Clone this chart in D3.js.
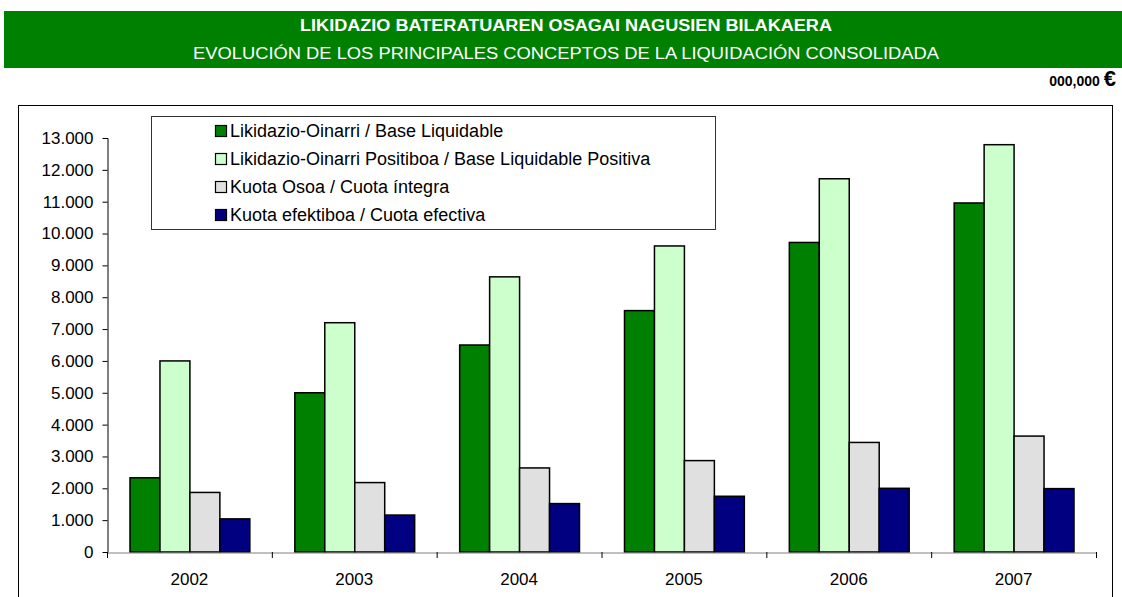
<!DOCTYPE html>
<html>
<head>
<meta charset="utf-8">
<script src="https://cdn.jsdelivr.net/npm/d3@7"></script>
<style>
  body { margin: 0; background: #fff; }
  svg { display: block; font-family: "Liberation Sans", Arial, sans-serif; }
</style>
</head>
<body>
<svg></svg>
<script>
var svgWidth = 1122;
var svgHeight = 597;

// data (thousands of euros)
var years = ["2002", "2003", "2004", "2005", "2006", "2007"];
var seriesNames = [
  "Likidazio-Oinarri / Base Liquidable",
  "Likidazio-Oinarri Positiboa / Base Liquidable Positiva",
  "Kuota Osoa / Cuota íntegra",
  "Kuota efektiboa / Cuota efectiva"
];
var baseLiquidable = [2330, 5000, 6500, 7580, 9720, 10960];
var basePositiva = [6000, 7200, 8640, 9610, 11720, 12790];
var cuotaIntegra = [1870, 2180, 2640, 2870, 3440, 3640];
var cuotaEfectiva = [1040, 1160, 1520, 1750, 2000, 1990];
var yTicks = [0, 1000, 2000, 3000, 4000, 5000, 6000, 7000, 8000, 9000, 10000, 11000, 12000, 13000];
var colors = ["#008000", "#CCFFCC", "#E0E0E0", "#000080"];

var allSeries = [baseLiquidable, basePositiva, cuotaIntegra, cuotaEfectiva];

var svg = d3.select("svg")
  .attr("width", svgWidth)
  .attr("height", svgHeight);

// header band
svg.append("rect")
  .attr("x", 4).attr("y", 11)
  .attr("width", 1118).attr("height", 57)
  .attr("fill", "#008000");
svg.append("text")
  .attr("x", 566).attr("y", 31)
  .attr("text-anchor", "middle")
  .attr("fill", "#fff")
  .attr("font-weight", "bold")
  .attr("font-size", 16)
  .attr("textLength", 532)
  .attr("lengthAdjust", "spacingAndGlyphs")
  .text("LIKIDAZIO BATERATUAREN OSAGAI NAGUSIEN BILAKAERA");
svg.append("text")
  .attr("x", 566).attr("y", 59)
  .attr("text-anchor", "middle")
  .attr("fill", "#fff")
  .attr("font-size", 16)
  .attr("textLength", 746)
  .attr("lengthAdjust", "spacingAndGlyphs")
  .text("EVOLUCIÓN DE LOS PRINCIPALES CONCEPTOS DE LA LIQUIDACIÓN CONSOLIDADA");

// units
var unit = svg.append("text")
  .attr("x", 1116).attr("y", 86)
  .attr("text-anchor", "end")
  .attr("font-weight", "bold")
  .attr("fill", "#000");
unit.append("tspan").attr("font-size", 14).text("000,000 ");
unit.append("tspan").attr("font-size", 22).text("€");

// chart frame
svg.append("rect")
  .attr("x", 18.5).attr("y", 105.5)
  .attr("width", 1094).attr("height", 520)
  .attr("fill", "none")
  .attr("stroke", "#000")
  .attr("stroke-width", 1);

var locale = d3.formatLocale({decimal: ",", thousands: ".", grouping: [3], currency: ["", "€"]});
var fmt = locale.format(",");

var x0 = d3.scaleBand().domain(years).range([107, 1096]).padding(0);
var x1 = d3.scaleBand().domain(d3.range(seriesNames.length)).range([23, x0.bandwidth() - 22]);
var y = d3.scaleLinear().domain([0, 13000]).range([552, 138]);

// y axis
var yAxis = svg.append("g")
  .attr("transform", "translate(107.5,0)")
  .call(d3.axisLeft(y).tickValues(yTicks).tickFormat(fmt).tickSize(5).tickPadding(9));
yAxis.select(".domain").attr("stroke", "#000").attr("d", "M-0.5," + (y(13000) + 0.5) + "H0.5V" + (y(0) + 0.5));
yAxis.selectAll(".tick line").attr("stroke", "#000");
yAxis.selectAll(".tick text").attr("font-size", 17).attr("fill", "#000");

// bars
var groups = svg.selectAll("g.year")
  .data(years)
  .enter()
  .append("g")
  .attr("class", "year")
  .attr("transform", function (d) { return "translate(" + x0(d) + ",0)"; });

groups.selectAll("rect")
  .data(function (d, i) {
    return allSeries.map(function (s, k) { return {k: k, v: s[i]}; });
  })
  .enter()
  .append("rect")
  .attr("x", function (d) { return x1(d.k); })
  .attr("y", function (d) { return y(d.v); })
  .attr("width", x1.bandwidth())
  .attr("height", function (d) { return y(0) - y(d.v); })
  .attr("fill", function (d) { return colors[d.k]; })
  .attr("stroke", "#000")
  .attr("stroke-width", 1.5);

// x axis
var xAxis = svg.append("g")
  .attr("transform", "translate(0," + (y(0) + 0.5) + ")")
  .call(d3.axisBottom(x0).tickSize(0).tickPadding(20));
xAxis.select(".domain").attr("stroke", "#808080");
xAxis.selectAll(".tick text").attr("font-size", 17).attr("fill", "#000");
svg.append("g")
  .selectAll("line")
  .data(years.concat(["end"]))
  .enter()
  .append("line")
  .attr("x1", function (d) { return d === "end" ? 1096.5 : x0(d) + 0.5; })
  .attr("x2", function (d) { return d === "end" ? 1096.5 : x0(d) + 0.5; })
  .attr("y1", y(0))
  .attr("y2", y(0) + 6)
  .attr("stroke", "#000");

// legend
var legend = svg.append("g");
legend.append("rect")
  .attr("x", 151.5).attr("y", 116.5)
  .attr("width", 564).attr("height", 113)
  .attr("fill", "#fff")
  .attr("stroke", "#333")
  .attr("stroke-width", 1);
var items = legend.selectAll("g.item")
  .data(seriesNames)
  .enter()
  .append("g")
  .attr("class", "item")
  .attr("transform", function (d, i) { return "translate(215," + (131 + i * 28) + ")"; });
items.append("rect")
  .attr("x", 0.5).attr("y", -5.5)
  .attr("width", 11).attr("height", 11)
  .attr("fill", function (d, i) { return colors[i]; })
  .attr("stroke", "#000")
  .attr("stroke-width", 1.2);
items.append("text")
  .attr("x", 15).attr("y", 6)
  .attr("font-size", 18)
  .attr("fill", "#000")
  .text(function (d) { return d; });
</script>
</body>
</html>
